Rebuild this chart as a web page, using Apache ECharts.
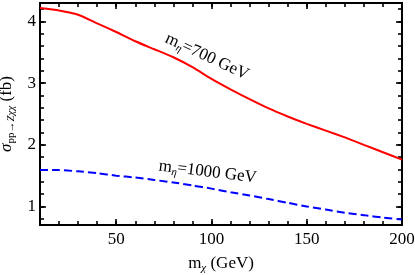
<!DOCTYPE html>
<html><head><meta charset="utf-8">
<script src="https://cdn.jsdelivr.net/npm/echarts@6/dist/echarts.min.js"></script>
<style>html,body{margin:0;padding:0;background:#fff}#c{width:415px;height:275px}</style>
</head><body><div id="c"></div>
<script>
// ---- data ----
const mChi = [10,20,30,40,50,60,70,80,90,100,110,120,130,140,150,160,170,180,190,200];
const sigma700 = [4.22,4.18,4.11,3.97,3.83,3.68,3.55,3.42,3.26,3.07,2.90,2.74,2.59,2.46,2.34,2.23,2.12,2.00,1.88,1.76];
const sigma1000 = [1.59,1.59,1.57,1.54,1.50,1.47,1.43,1.39,1.34,1.29,1.23,1.18,1.12,1.06,1.00,0.95,0.90,0.86,0.82,0.79];
const xMajorTicks = [50,100,150,200];
const xMinorTicks = [10,20,30,40,50,60,70,80,90,100,110,120,130,140,150,160,170,180,190,200];
const yMajorTicks = [1,2,3,4];
const yMinorTicks = [0.8,1.0,1.2,1.4,1.6,1.8,2.0,2.2,2.4,2.6,2.8,3.0,3.2,3.4,3.6,3.8,4.0,4.2];
const label700 = 'm{sub|η}=700 GeV';
const label1000 = 'm{sub|η}=1000 GeV';

const FONT = '"Liberation Serif", "Times New Roman", serif';
const chart = echarts.init(document.getElementById('c'), null, {renderer:'canvas'});

function xAx(pos, vals, len, labels, extra){
  return Object.assign({
    type:'value', position:pos, min:10, max:200,
    axisLine:{show:false}, splitLine:{show:false},
    axisTick:{show:true, inside:true, length:len, customValues:vals, lineStyle:{color:'#000', width:1.6}},
    axisLabel:{show:labels, customValues:vals, color:'#000', fontFamily:FONT, fontSize:17, margin:6}
  }, extra||{});
}
function yAx(pos, vals, len, labels, extra){
  return Object.assign({
    type:'value', position:pos, min:0.7, max:4.3,
    axisLine:{show:false}, splitLine:{show:false},
    axisTick:{show:true, inside:true, length:len, customValues:vals, lineStyle:{color:'#000', width:1.6}},
    axisLabel:{show:labels, customValues:vals, color:'#000', fontFamily:FONT, fontSize:17, margin:4}
  }, extra||{});
}

const option = {
  animation:false,
  backgroundColor:'#fff',
  grid:{left:40, right:13, top:3, bottom:50, show:true, borderColor:'#000', borderWidth:2,
        backgroundColor:'transparent', containLabel:false, outerBoundsMode:'none'},
  xAxis:[
    xAx('bottom', xMajorTicks, 6, true, {
      name:'m{sub|χ} (GeV)', nameLocation:'middle', nameGap:28,
      nameTextStyle:{color:'#000', fontFamily:FONT, fontSize:17,
        rich:{sub:{fontFamily:FONT, fontSize:11, fontStyle:'italic', verticalAlign:'bottom', padding:[10,0,0,0]}}}
    }),
    xAx('bottom', xMinorTicks, 4, false),
    xAx('top', xMajorTicks, 6, false),
    xAx('top', xMinorTicks, 4, false)
  ],
  yAxis:[
    yAx('left', yMajorTicks, 6, true, {
      name:'{s|σ}{sub|pp→}{subi|Zχχ} (fb)', nameLocation:'middle', nameGap:22,
      nameTextStyle:{color:'#000', fontFamily:FONT, fontSize:17,
        rich:{
          s:{fontFamily:FONT, fontSize:17, fontStyle:'italic'},
          sub:{fontFamily:FONT, fontSize:11, verticalAlign:'bottom', padding:[10,0,0,0]},
          subi:{fontFamily:FONT, fontSize:11, fontStyle:'italic', verticalAlign:'bottom', padding:[10,0,0,0]}
        }}
    }),
    yAx('left', yMinorTicks, 4, false),
    yAx('right', yMajorTicks, 6, false),
    yAx('right', yMinorTicks, 4, false)
  ],
  series:[
    {type:'line', name:'700', xAxisIndex:0, yAxisIndex:0, showSymbol:false, smooth:0.2,
     data: mChi.map((x,i)=>[x, sigma700[i]]),
     lineStyle:{color:'#ff0000', width:2}},
    {type:'line', name:'1000', xAxisIndex:0, yAxisIndex:0, showSymbol:false, smooth:0.2,
     data: mChi.map((x,i)=>[x, sigma1000[i]]),
     lineStyle:{color:'#0000ff', width:2, type:[8,4]}}
  ]
};
chart.setOption(option);

const p1 = chart.convertToPixel({xAxisIndex:0, yAxisIndex:0}, [97.6, 3.43]);
const p2 = chart.convertToPixel({xAxisIndex:0, yAxisIndex:0}, [98, 1.56]);
const richLbl = {sub:{fontFamily:FONT, fontSize:11, fontStyle:'italic', verticalAlign:'bottom', padding:[9,0,0,0]}};
chart.setOption({graphic:[
  {type:'text', x:p1[0], y:p1[1], rotation:-25*Math.PI/180,
   style:{text:label700, fill:'#000', font:'17px '+FONT, align:'center', verticalAlign:'middle', rich:richLbl}},
  {type:'text', x:p2[0], y:p2[1], rotation:-7*Math.PI/180,
   style:{text:label1000, fill:'#000', font:'17px '+FONT, align:'center', verticalAlign:'middle', rich:richLbl}}
]});
</script></body></html>
